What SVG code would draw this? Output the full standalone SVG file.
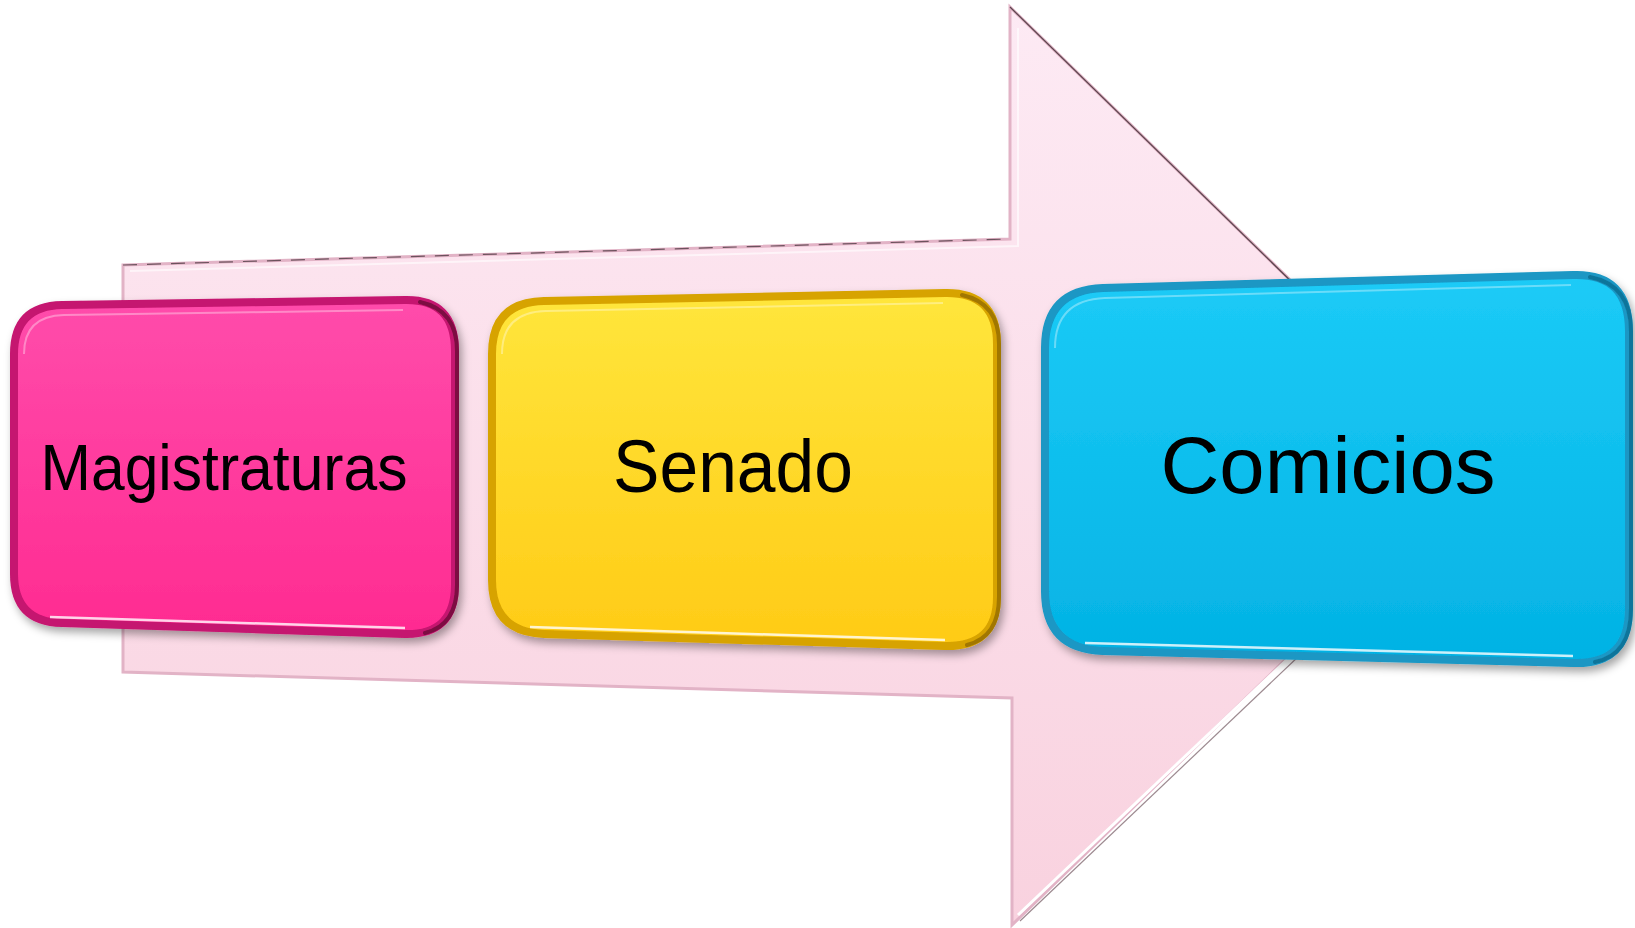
<svg xmlns="http://www.w3.org/2000/svg" width="1635" height="928" viewBox="0 0 1635 928">
<defs>
<linearGradient id="gArrow" x1="0" y1="0" x2="0" y2="1">
<stop offset="0" stop-color="#FDEAF4"/><stop offset="1" stop-color="#F9D2DF"/>
</linearGradient>
<linearGradient id="gPink" x1="0" y1="0" x2="0" y2="1">
<stop offset="0" stop-color="#FF4CAB"/><stop offset="1" stop-color="#FF2B91"/>
</linearGradient>
<linearGradient id="gYellow" x1="0" y1="0" x2="0" y2="1">
<stop offset="0" stop-color="#FFE63C"/><stop offset="1" stop-color="#FFCB16"/>
</linearGradient>
<linearGradient id="gBlue" x1="0" y1="0" x2="0" y2="1">
<stop offset="0" stop-color="#1CCBF7"/><stop offset="1" stop-color="#03B2E4"/>
</linearGradient>
<filter id="shadow" x="-10%" y="-10%" width="125%" height="130%">
<feDropShadow dx="3" dy="5" stdDeviation="4" flood-color="#000" flood-opacity="0.35"/>
</filter>
</defs>
<style>
.lbl{font-family:"Liberation Sans",Arial,sans-serif;fill:#000;text-anchor:middle;}
.hl{fill:none;stroke:#fff;stroke-opacity:0.35;stroke-width:2;}
.box{stroke-width:8;stroke-linejoin:round;}
.rim{fill:none;stroke-width:4;stroke-linecap:round;}
.bot{fill:none;stroke:#fff;stroke-opacity:0.8;stroke-width:2.5;}
</style>
<g id="connectors">
<polygon points="123,265 1010,239 1010,7 1483,468 1012,925 1012,698 123,672" fill="url(#gArrow)" stroke="#E2B3C6" stroke-width="3"/>
<polyline points="123,265 1010,239" fill="none" stroke="#3a2a30" stroke-width="1.2" stroke-dasharray="14 10" opacity="0.7"/>
<polyline points="1010,7 1300,290" fill="none" stroke="#3a2a30" stroke-width="1.3" opacity="0.8"/>
<polyline points="1018,28 1018,246 130,271" fill="none" stroke="#fff" stroke-opacity="0.6" stroke-width="2"/>
<polyline points="1295,652 1018,915" fill="none" stroke="#fff" stroke-width="3"/>
<polyline points="1300,655 1020,921" fill="none" stroke="#5a3a45" stroke-width="1.2" opacity="0.6"/>
</g>
<g id="node-magistraturas" filter="url(#shadow)">
<path class="box" d="M 14,354 Q 14,306 62,305 L 405,300 Q 455,299 455,351 L 455,585 Q 455,635 405,634 L 62,623 Q 14,622 14,574 Z" fill="url(#gPink)" stroke="#C5146F"/>
<path class="rim" d="M 420,302 Q 457,310 457,351 L 457,585 Q 457,625 425,633" stroke="#6A1038" stroke-opacity="0.8"/>
<path class="hl" d="M 24,354 Q 24,316 64,315 L 403,310"/>
<path class="bot" d="M 50,617 L 405,628"/>
<text class="lbl" x="224" y="490" font-size="65" textLength="367" lengthAdjust="spacingAndGlyphs">Magistraturas</text>
</g>
<g id="node-senado" filter="url(#shadow)">
<path class="box" d="M 492,354 Q 492,302 544,301 L 945,293 Q 997,292 997,344 L 997,597 Q 997,647 945,646 L 544,634 Q 492,632 492,580 Z" fill="url(#gYellow)" stroke="#D7A300"/>
<path class="rim" d="M 962,295 Q 999,303 999,344 L 999,597 Q 999,637 967,645" stroke="#8A6400" stroke-opacity="0.7"/>
<path class="hl" d="M 502,354 Q 502,312 546,311 L 943,303"/>
<path class="bot" d="M 530,627 L 945,640"/>
<text class="lbl" x="733" y="492" font-size="75" textLength="240" lengthAdjust="spacingAndGlyphs">Senado</text>
</g>
<g id="node-comicios" filter="url(#shadow)">
<path class="box" d="M 1045,348 Q 1045,290 1103,288 L 1573,275 Q 1629,273 1629,331 L 1629,609 Q 1629,665 1573,663 L 1103,651 Q 1045,649 1045,591 Z" fill="url(#gBlue)" stroke="#1A97C4"/>
<path class="rim" d="M 1590,277 Q 1631,285 1631,331 L 1631,609 Q 1631,655 1595,662" stroke="#0B5F80" stroke-opacity="0.6"/>
<path class="hl" d="M 1055,348 Q 1055,300 1105,298 L 1571,285"/>
<path class="bot" d="M 1085,643 L 1573,656"/>
<text class="lbl" x="1328" y="493" font-size="80" textLength="335" lengthAdjust="spacingAndGlyphs">Comicios</text>
</g>
</svg>
